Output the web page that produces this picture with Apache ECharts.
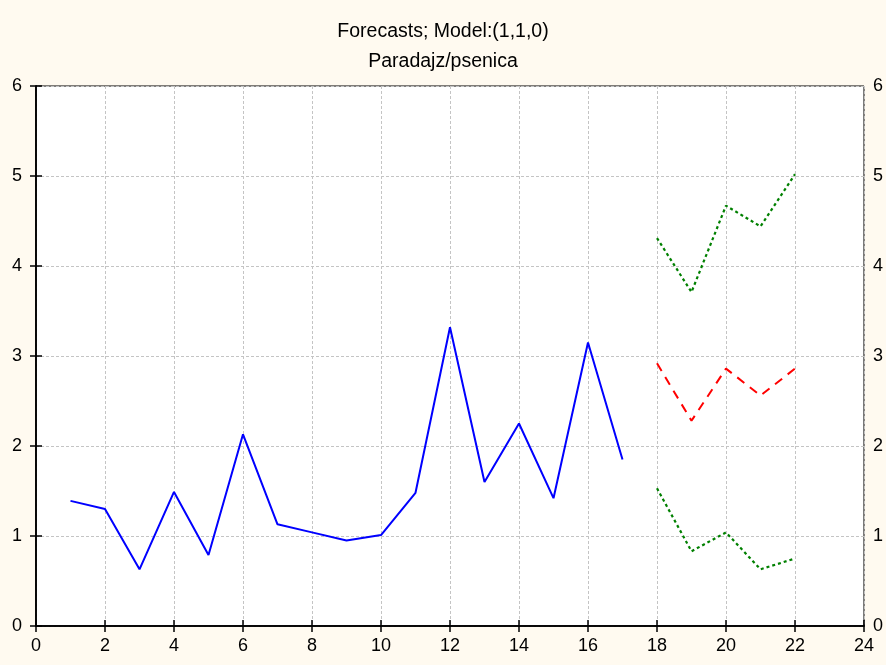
<!DOCTYPE html>
<html>
<head>
<meta charset="utf-8">
<script src="https://cdn.jsdelivr.net/npm/echarts@6/dist/echarts.min.js"></script>
<style>html,body{margin:0;padding:0;background:#fffaf0;}#c{width:886px;height:665px;}</style>
</head>
<body>
<div id="c"></div>
<script>
var observedX = [1,2,3,4,5,6,7,8,9,10,11,12,13,14,15,16,17];
var observedY = [1.39,1.30,0.63,1.49,0.79,2.13,1.13,1.04,0.95,1.01,1.48,3.32,1.60,2.25,1.42,3.15,1.85];
var forecastX = [18,19,20,21,22];
var forecastY = [2.92,2.28,2.86,2.56,2.86];
var upperY = [4.31,3.71,4.67,4.44,5.02];
var lowerY = [1.53,0.83,1.04,0.63,0.75];
var xTicks = [0,2,4,6,8,10,12,14,16,18,20,22,24];
var yTicks = [0,1,2,3,4,5,6];

function pairs(xs, ys){ return xs.map(function(x,i){ return [x, ys[i]]; }); }

var font = 'Liberation Sans, Arial, sans-serif';
var tickFont = 18;
var chart = echarts.init(document.getElementById('c'), null, {renderer:'canvas'});
var axisCommon = {
  type:'value',
  axisLine:{show:true, lineStyle:{color:'#000', width:1.5}},
  axisTick:{show:true, inside:true, length:6, lineStyle:{color:'#000', width:1.5}},
  axisLabel:{color:'#000', fontFamily:font, fontSize:tickFont},
  splitLine:{show:false}
};
chart.setOption({
  backgroundColor:'#fffaf0',
  animation:false,
  title:[
    {text:'Forecasts; Model:(1,1,0)', left:'center', top:17, textStyle:{fontFamily:font, fontSize:19.5, fontWeight:'normal', color:'#000'}},
    {text:'Paradajz/psenica', left:'center', top:47, textStyle:{fontFamily:font, fontSize:19.5, fontWeight:'normal', color:'#000'}}
  ],
  grid:{left:36, right:22, top:86, bottom:39, show:true, backgroundColor:'#fff', borderColor:'#000', borderWidth:1},
  xAxis:[
    Object.assign({}, axisCommon, {min:0, max:24, interval:2, position:'bottom',
      axisLabel:{color:'#000', fontFamily:font, fontSize:tickFont, margin:11, formatter:function(v){return xTicks.indexOf(v)>=0? String(v):'';}},
      splitLine:{show:true, lineStyle:{color:'#c4c4c4', type:[3,2], width:1}}}),
    Object.assign({}, axisCommon, {min:0, max:24, interval:2, position:'top', axisLabel:{show:false}})
  ],
  yAxis:[
    Object.assign({}, axisCommon, {min:0, max:6, interval:1, position:'left',
      axisLabel:{color:'#000', fontFamily:font, fontSize:tickFont, margin:14, formatter:function(v){return yTicks.indexOf(v)>=0? String(v):'';}},
      splitLine:{show:true, lineStyle:{color:'#c4c4c4', type:[3,2], width:1}}}),
    Object.assign({}, axisCommon, {min:0, max:6, interval:1, position:'right',
      axisLabel:{color:'#000', fontFamily:font, fontSize:tickFont, margin:9}})
  ],
  series:[
    {type:'line', data:pairs(observedX, observedY), showSymbol:false, symbol:'none', lineStyle:{color:'#0000ff', width:2}},
    {type:'line', data:pairs(forecastX, forecastY), showSymbol:false, symbol:'none', lineStyle:{color:'#ff0000', width:2, type:[9,7]}},
    {type:'line', data:pairs(forecastX, upperY), showSymbol:false, symbol:'none', lineStyle:{color:'#008000', width:2.2, type:[3,3]}},
    {type:'line', data:pairs(forecastX, lowerY), showSymbol:false, symbol:'none', lineStyle:{color:'#008000', width:2.2, type:[3,3]}}
  ]
});
</script>
</body>
</html>
